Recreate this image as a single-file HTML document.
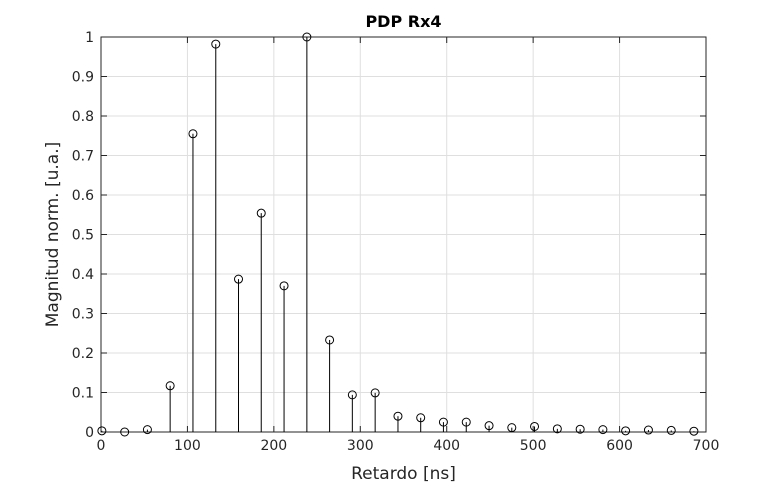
<!DOCTYPE html>
<html><head><meta charset="utf-8"><style>
html,body{margin:0;padding:0;background:#fff;}
svg{display:block;font-family:"DejaVu Sans","Liberation Sans",sans-serif;}
</style></head><body>
<svg id="chart" width="781" height="487" viewBox="0 0 781 487"></svg>
<script>
const delays = [1,27.4,53.7,80,106.4,132.8,159.1,185.4,211.8,238.2,264.5,290.8,317.2,343.6,369.9,396.2,422.6,449,475.3,501.6,528,554.4,580.7,607,633.4,659.8,686];
const magnitudes = [0.003,0,0.006,0.117,0.755,0.982,0.387,0.554,0.37,1,0.233,0.094,0.099,0.04,0.036,0.025,0.025,0.016,0.011,0.014,0.008,0.007,0.006,0.003,0.005,0.004,0.002];
const xTicks = [0,100,200,300,400,500,600,700];
const yTicks = [0,0.1,0.2,0.3,0.4,0.5,0.6,0.7,0.8,0.9,1];
const yTickLabels = ["0","0.1","0.2","0.3","0.4","0.5","0.6","0.7","0.8","0.9","1"];

const NS="http://www.w3.org/2000/svg";
const svg=document.getElementById('chart');
const L=101,R=706,T=37,B=432;
const xs=v=>L+(v-0)/(700-0)*(R-L);
const ys=v=>B-(v-0)/(1-0)*(B-T);
function mk(tag,attrs,parent){const e=document.createElementNS(NS,tag);for(const k in attrs)e.setAttribute(k,attrs[k]);(parent||svg).appendChild(e);return e;}

const grid=mk('g',{});


xTicks.forEach(t=>{const l=mk('line',{x1:xs(t),x2:xs(t),y1:T,y2:B,stroke:'#dfdfdf','stroke-width':1},grid);

});
yTicks.forEach(t=>{const l=mk('line',{x1:L,x2:R,y1:ys(t),y2:ys(t),stroke:'#dfdfdf','stroke-width':1},grid);

});

const box=mk('rect',{x:L,y:T,width:R-L,height:B-T,fill:'none',stroke:'#262626','stroke-width':1});



xTicks.forEach(t=>{
  mk('line',{x1:xs(t),x2:xs(t),y1:B,y2:B-6,stroke:'#262626'});
  mk('line',{x1:xs(t),x2:xs(t),y1:T,y2:T+6,stroke:'#262626'});
  const tx=mk('text',{x:xs(t),y:B+18,'text-anchor':'middle','font-size':14,fill:'#262626'});
  tx.textContent=t;
  
  
});
yTicks.forEach((t,i)=>{
  mk('line',{x1:L,x2:L+6,y1:ys(t),y2:ys(t),stroke:'#262626'});
  mk('line',{x1:R,x2:R-6,y1:ys(t),y2:ys(t),stroke:'#262626'});
  const tx=mk('text',{x:L-7,y:ys(t)+5,'text-anchor':'end','font-size':14,fill:'#262626'});
  tx.textContent=yTickLabels[i];
  
  
});

const series=mk('g',{});


delays.forEach((d,i)=>{
  const x=xs(d),y=ys(magnitudes[i]);
  const s=mk('line',{x1:x,x2:x,y1:B,y2:y,stroke:'#000','stroke-width':1},series);
  
  
  const c=mk('circle',{cx:x,cy:y,r:4,fill:'none',stroke:'#000','stroke-width':1},series);
  
  
});

const title=mk('text',{x:(L+R)/2,y:27,'text-anchor':'middle','font-size':16,'font-weight':'bold',fill:'#000'});
title.textContent='PDP Rx4';


const xl=mk('text',{x:(L+R)/2,y:479,'text-anchor':'middle','font-size':17,fill:'#262626'});
xl.textContent='Retardo [ns]';


const yl=mk('text',{x:0,y:0,'text-anchor':'middle','font-size':17,fill:'#262626',transform:`translate(58,${(T+B)/2}) rotate(-90)`});
yl.textContent='Magnitud norm. [u.a.]';


</script>
</body></html>
